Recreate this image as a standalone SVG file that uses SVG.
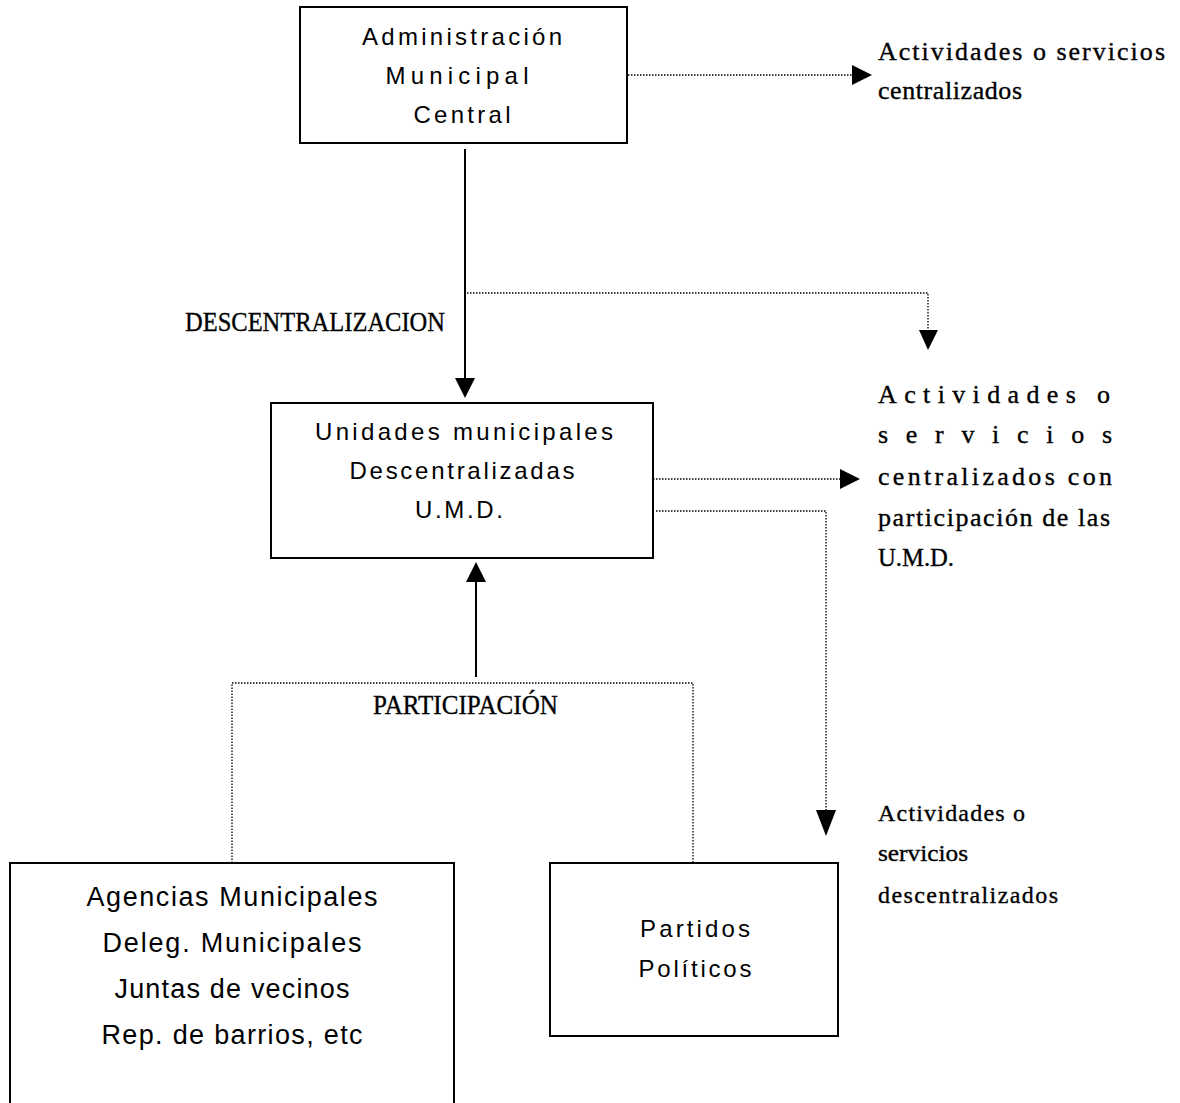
<svg xmlns="http://www.w3.org/2000/svg" width="1180" height="1103" viewBox="0 0 1180 1103">
  <style>
    .box { fill: #ffffff; stroke: #000000; stroke-width: 2; }
    .sans { font-family: "Liberation Sans", Arial, sans-serif; font-size: 24px; fill: #000000; text-anchor: middle; }
    .serif { font-family: "Liberation Serif", "Times New Roman", serif; fill: #000000; stroke: #000000; stroke-width: 0.35; }
    .solid { fill: none; stroke: #000000; stroke-width: 2; }
    .dot { fill: none; stroke: #000000; stroke-width: 1.3; stroke-dasharray: 1.5 1.5; }
    .head { fill: #000000; stroke: none; }
  </style>
  <rect width="1180" height="1103" fill="#ffffff"/>

  <g id="connectors">
    <line class="solid" x1="465" y1="149" x2="465" y2="380"/>
    <polygon class="head" points="455,378 475,378 465,398"/>
    <line class="dot" x1="622" y1="75" x2="853" y2="75"/>
    <polygon class="head" points="852,65 852,85 872,75"/>
    <polyline class="dot" points="467,293 928,293 928,331"/>
    <polygon class="head" points="919,330 938,330 928,350"/>
    <line class="dot" x1="650" y1="479" x2="841" y2="479"/>
    <polygon class="head" points="840,469 840,489 860,479"/>
    <polyline class="dot" points="656,511 826,511 826,811"/>
    <polygon class="head" points="816,810 836,810 826,836"/>
    <line class="solid" x1="476" y1="677" x2="476" y2="580"/>
    <polygon class="head" points="466,582 486,582 476,562"/>
    <polyline class="dot" points="232,863 232,683 693,683 693,863"/>
  </g>

  <g id="node-admin">
    <rect class="box" x="300" y="7" width="327" height="136"/>
    <text class="sans" x="462" y="45" textLength="200" lengthAdjust="spacing">Administración</text>
    <text class="sans" x="457" y="84" textLength="143" lengthAdjust="spacing">Municipal</text>
    <text class="sans" x="462" y="123" textLength="97" lengthAdjust="spacing">Central</text>
  </g>

  <g id="node-umd">
    <rect class="box" x="271" y="403" width="382" height="155"/>
    <text class="sans" x="464" y="440" textLength="298" lengthAdjust="spacing">Unidades municipales</text>
    <text class="sans" x="462" y="479" textLength="225" lengthAdjust="spacing">Descentralizadas</text>
    <text class="sans" x="459" y="518" textLength="88" lengthAdjust="spacing">U.M.D.</text>
  </g>

  <g id="node-agencias">
    <rect class="box" x="10" y="863" width="444" height="250"/>
    <text class="sans" x="232" y="906" textLength="291" lengthAdjust="spacing" style="font-size:27px">Agencias Municipales</text>
    <text class="sans" x="232" y="952" textLength="259" lengthAdjust="spacing" style="font-size:27px">Deleg. Municipales</text>
    <text class="sans" x="232" y="998" textLength="235" lengthAdjust="spacing" style="font-size:27px">Juntas de vecinos</text>
    <text class="sans" x="232" y="1044" textLength="261" lengthAdjust="spacing" style="font-size:27px">Rep. de barrios, etc</text>
  </g>

  <g id="node-partidos">
    <rect class="box" x="550" y="863" width="288" height="173"/>
    <text class="sans" x="695" y="937" textLength="110" lengthAdjust="spacing">Partidos</text>
    <text class="sans" x="695" y="977" textLength="113" lengthAdjust="spacing">Políticos</text>
  </g>

  <g id="label-descentralizacion">
    <text class="serif" x="185" y="331" font-size="27" textLength="260" lengthAdjust="spacingAndGlyphs">DESCENTRALIZACION</text>
  </g>

  <g id="label-participacion">
    <text class="serif" x="373" y="714" font-size="27" textLength="185" lengthAdjust="spacingAndGlyphs">PARTICIPACIÓN</text>
  </g>

  <g id="label-centralizados">
    <text class="serif" x="878" y="60" font-size="26" textLength="287" lengthAdjust="spacing">Actividades o servicios</text>
    <text class="serif" x="878" y="99" font-size="26" textLength="144" lengthAdjust="spacing">centralizados</text>
  </g>

  <g id="label-participacion-umd">
    <text class="serif" x="878" y="403" font-size="26" textLength="232" lengthAdjust="spacing">Actividades o</text>
    <text class="serif" x="878" y="443" font-size="26" textLength="234" lengthAdjust="spacing">servicios</text>
    <text class="serif" x="878" y="485" font-size="26" textLength="234" lengthAdjust="spacing">centralizados con</text>
    <text class="serif" x="878" y="526" font-size="26" textLength="232" lengthAdjust="spacing">participación de las</text>
    <text class="serif" x="878" y="566" font-size="26" textLength="76" lengthAdjust="spacingAndGlyphs">U.M.D.</text>
  </g>

  <g id="label-descentralizados">
    <text class="serif" x="878" y="821" font-size="24" textLength="147" lengthAdjust="spacing">Actividades o</text>
    <text class="serif" x="878" y="861" font-size="24" textLength="90" lengthAdjust="spacingAndGlyphs">servicios</text>
    <text class="serif" x="878" y="903" font-size="24" textLength="180" lengthAdjust="spacing">descentralizados</text>
  </g>
</svg>
